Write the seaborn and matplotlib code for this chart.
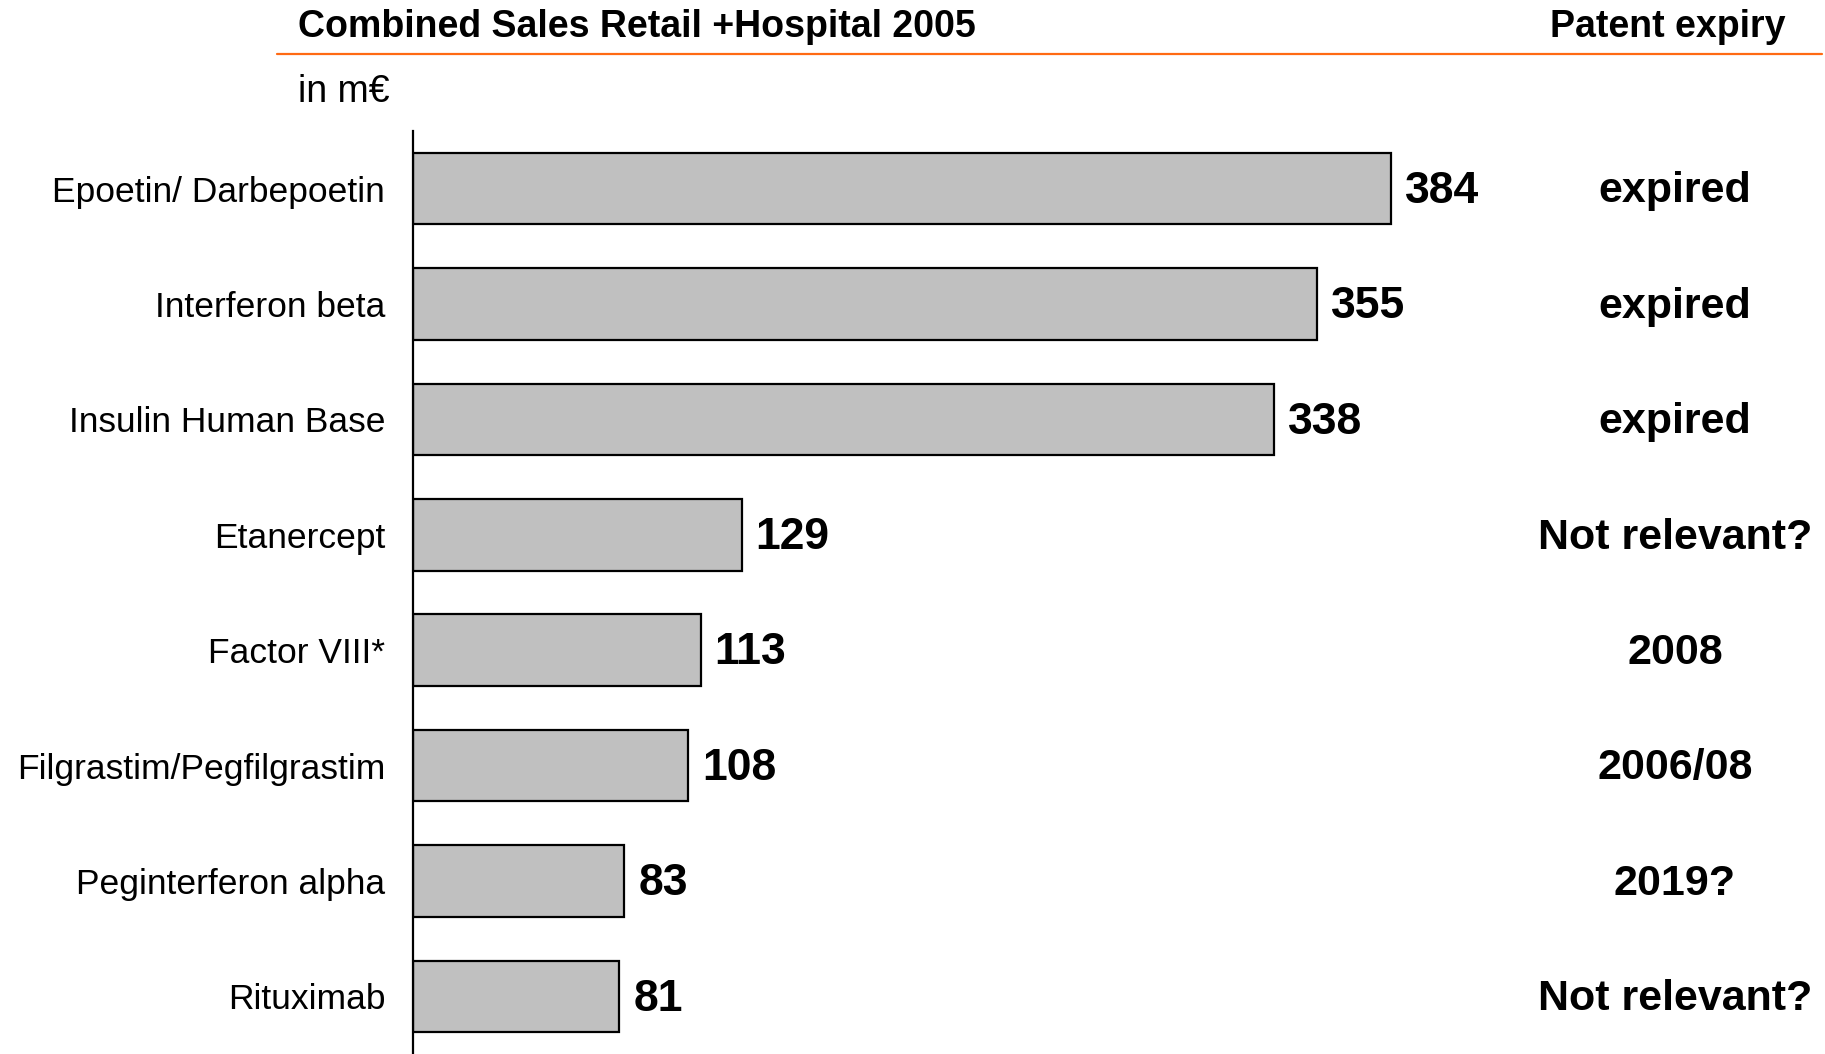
import matplotlib
matplotlib.use("Agg")
import matplotlib.pyplot as plt
import matplotlib.transforms as mtransforms
from matplotlib.lines import Line2D
import seaborn as sns
import pandas as pd

categories = ["Epoetin/ Darbepoetin", "Interferon beta", "Insulin Human Base", "Etanercept",
              "Factor VIII*", "Filgrastim/Pegfilgrastim", "Peginterferon alpha", "Rituximab"]
sales = [384, 355, 338, 129, 113, 108, 83, 81]
patent = ["expired", "expired", "expired", "Not relevant?", "2008", "2006/08", "2019?", "Not relevant?"]

title = "Combined Sales Retail +Hospital 2005"
unit = "in m€"
right_header = "Patent expiry"

sns.set_theme(style="white")
plt.rcParams['font.family'] = ['Liberation Sans', 'DejaVu Sans']

W, H = 1825, 1054
fig = plt.figure(figsize=(W / 100, H / 100), dpi=100)
ax_left, ax_right = 413 / W, 1814 / W
ax_top, ax_bot = 131 / H, 1054 / H
ax = fig.add_axes([ax_left, 1 - ax_bot, ax_right - ax_left, ax_bot - ax_top])

df = pd.DataFrame({"cat": categories, "val": sales})
sns.barplot(data=df, x="val", y="cat", orient="h", color="#C0C0C0", width=0.62,
            edgecolor="black", linewidth=1.6, saturation=1, ax=ax)
ax.set_xlim(0, 550)
ax.set_ylim(len(categories) - 0.5, -0.5)
ax.set_xlabel("")
ax.set_ylabel("")
ax.set_xticks([])
for s in ["top", "right", "bottom"]:
    ax.spines[s].set_visible(False)
ax.spines["left"].set_color("black")
ax.spines["left"].set_linewidth(1.6)
ax.tick_params(axis="y", length=0, pad=20, labelsize=25.5, labelcolor="black")

# value labels
for i, v in enumerate(sales):
    ax.annotate(str(v), xy=(v, i), xytext=(10, -2), textcoords="offset points",
                ha="left", va="center", fontsize=32, fontweight="bold", color="black")

# patent labels
tr = mtransforms.blended_transform_factory(fig.transFigure, ax.transData)
for i, p in enumerate(patent):
    ax.annotate(p, xy=(1675 / W, i), xycoords=tr, xytext=(0, -2), textcoords="offset points",
                ha="center", va="center", fontsize=31, fontweight="bold", color="black")

# header
fig.text(298 / W, 1 - 27 / H, title, ha="left", va="center", fontsize=27, fontweight="bold",
         family=['Liberation Sans Narrow', 'Liberation Sans', 'DejaVu Sans'], color="black")
fig.text(1785 / W, 1 - 27 / H, right_header, ha="right", va="center", fontsize=27,
         fontweight="bold", color="black")
fig.text(298 / W, 1 - 92 / H, unit, ha="left", va="center", fontsize=27, color="black")
fig.add_artist(Line2D([277 / W, 1822 / W], [1 - 54 / H, 1 - 54 / H], color="#FF6A13",
                      linewidth=1.6, transform=fig.transFigure))

fig.savefig("out.png", dpi=100, facecolor="white")
